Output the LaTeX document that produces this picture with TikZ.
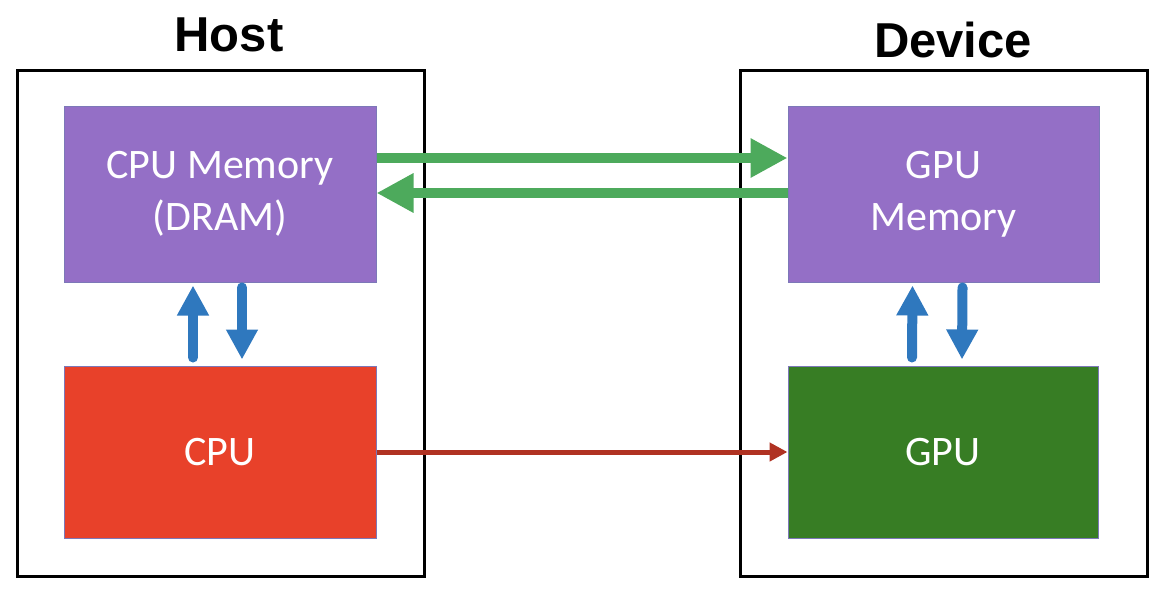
\documentclass[tikz,border=0pt]{standalone}
\usepackage{xcolor}
\usepackage{fontspec}
\setmainfont{Carlito}
\newfontfamily\titlefont{Liberation Sans}
\usepackage{tikz}
\usetikzlibrary{positioning,arrows.meta}
\definecolor{memviolet}{HTML}{946FC6}
\definecolor{cpured}{HTML}{E8412A}
\definecolor{gpugreen}{HTML}{377D24}
\definecolor{linkgreen}{HTML}{4DAA5C}
\definecolor{busblue}{HTML}{2F78BE}
\definecolor{ctrlred}{HTML}{B03222}
\definecolor{unitedge}{HTML}{7C78B8}

\begin{document}
\begin{tikzpicture}[x=1pt, y=-1pt, side/.style={draw, line width=3pt, minimum width=407pt, minimum height=506pt}, unit/.style={draw=unitedge, line width=1pt, text=white, align=center, font=\fontsize{42}{52}\selectfont, minimum width=312pt}, title/.style={font=\titlefont\bfseries\fontsize{49}{58}\selectfont, anchor=base}, wide/.style={-{Triangle[length=37pt, width=37pt]}, linkgreen, line width=10pt}, bus/.style={-{Triangle[length=30pt, width=30pt]}, busblue, line width=10pt, line cap=round}, ctrl/.style={-{Triangle[length=18pt, width=18pt]}, ctrlred, line width=5pt}]
\useasboundingbox (0,0) rectangle (1174,594);
\node[side] (host) at (220.5,323) {};
\node[side] (device) at (944,323) {};
\node[title] (hosttitle) at (229,52) {Host};
\node[title] (devicetitle) at (953,58) {Device};
\node[unit, fill=memviolet, minimum height=176pt] (cpumem) at (220,194) {CPU Memory\\(DRAM)};
\node[unit, fill=memviolet, minimum height=176pt, minimum width=311pt] (gpumem) at (943.5,194) {GPU\\Memory};
\node[unit, fill=cpured, minimum height=172pt] (cpu) at (220,452) {CPU};
\node[unit, fill=gpugreen, minimum height=172pt, minimum width=310pt] (gpu) at (943,452) {GPU};
\draw[wide] ([yshift=36pt]cpumem.east) -- ([yshift=36pt]gpumem.west);
\draw[wide] ([yshift=1pt]gpumem.west) -- ([yshift=1pt]cpumem.east);
\draw[bus] ([xshift=-27pt, yshift=8pt]cpu.north) -- ([xshift=-27pt, yshift=-3pt]cpumem.south);
\draw[bus] ([xshift=22pt, yshift=-5pt]cpumem.south) -- ([xshift=22pt, yshift=6pt]cpu.north);
\draw[bus] ([xshift=-31pt, yshift=8pt]gpu.north) -- ([xshift=-31pt, yshift=-3pt]gpumem.south);
\draw[bus] ([xshift=19pt, yshift=-5pt]gpumem.south) -- ([xshift=19pt, yshift=6pt]gpu.north);
\draw[ctrl] (cpu.east) -- (gpu.west);
\end{tikzpicture}
\end{document}
